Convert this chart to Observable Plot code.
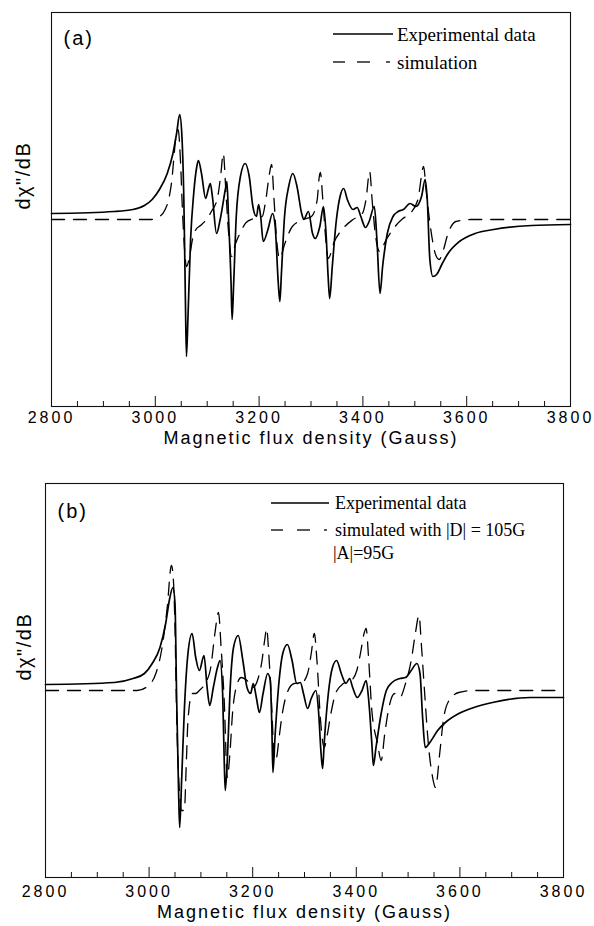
<!DOCTYPE html>
<html>
<head>
<meta charset="utf-8">
<script src="https://cdn.jsdelivr.net/npm/d3@7"></script>
<script src="https://cdn.jsdelivr.net/npm/@observablehq/plot@0.6"></script>
<style>
  html, body { margin: 0; padding: 0; background: #fff; }
  #wrap { position: relative; width: 594px; height: 926px; overflow: hidden; }
  #wrap > svg.plot { display: block; }
  #legend { position: absolute; left: 0; top: 0; pointer-events: none; }
  #legend text { font-family: "Liberation Serif", "Times New Roman", serif; fill: #000; dominant-baseline: central; }
</style>
</head>
<body>
<div id="wrap"></div>
<script>
// ---------- Data (arbitrary intensity units) ----------
const majorTicks = [2800, 3000, 3200, 3400, 3600, 3800];
const minorTicks = [2850, 2900, 2950, 3050, 3100, 3150, 3250, 3300, 3350, 3450, 3500, 3550, 3650, 3700, 3750];
const xTitle = "Magnetic flux density (Gauss)";
const yTitle = "dχ\"/dB";

// Panel (a): experimental
const aExpField = [2800,2921,2957,2979,2994,3008,3023,3034,3041,3047,3051,3055,3058,3060,3063,3068,3074,3080,3083,3089,3097,3102,3106,3110,3118,3125,3136,3138,3141,3146,3148,3151,3156,3164,3173,3181,3188,3195,3199,3203,3208,3217,3226,3231,3237,3240,3243,3249,3257,3265,3273,3282,3286,3295,3303,3308,3317,3324,3329,3333,3336,3341,3349,3356,3363,3370,3381,3389,3396,3405,3412,3422,3427,3433,3438,3447,3458,3468,3478,3491,3502,3513,3520,3524,3529,3535,3542,3553,3564,3586,3616,3652,3725,3800];
const aExpSignal = [193,195,197,201,207,217,233,253,273,292,273,207,107,50,90,167,213,240,246,233,208,217,223,210,173,187,220,225,190,123,87,123,190,230,243,230,200,190,202,190,165,177,193,180,123,105,133,190,220,233,220,193,187,195,173,168,180,200,173,130,108,140,187,210,218,207,197,199,190,179,185,200,167,113,140,173,190,195,197,203,200,210,227,207,147,130,132,143,153,165,173,177,181,182];

// Panel (a): simulation
const aSimField = [2800,2990,3008,3019,3027,3032,3036,3039,3044,3049,3052,3056,3060,3066,3072,3077,3087,3097,3108,3120,3126,3131,3136,3141,3147,3154,3164,3175,3190,3206,3213,3220,3224,3229,3234,3240,3249,3264,3286,3301,3312,3316,3318,3323,3328,3333,3345,3360,3381,3399,3406,3413,3418,3424,3432,3445,3462,3477,3491,3506,3517,3522,3530,3540,3547,3553,3564,3579,3608,3800];
const aSimSignal = [187,187,190,197,210,227,250,267,277,240,200,160,140,150,168,176,181,186,195,209,231,253,215,175,150,162,174,184,188,190,207,233,242,205,165,148,162,180,187,190,207,230,234,205,170,148,165,177,187,193,207,235,205,172,155,167,180,188,193,207,240,215,180,152,147,153,173,185,187,187];

// Panel (b): experimental
const bExpField = [2800,2933,2969,2991,3006,3021,3032,3039,3046,3050,3053,3057,3059,3063,3068,3075,3083,3090,3097,3106,3112,3117,3124,3132,3137,3142,3145,3147,3151,3156,3163,3172,3181,3189,3196,3201,3207,3213,3220,3229,3234,3237,3239,3243,3251,3258,3267,3276,3285,3292,3298,3306,3313,3322,3327,3332,3335,3338,3346,3354,3362,3371,3380,3387,3393,3402,3411,3419,3424,3430,3433,3438,3448,3458,3469,3484,3495,3506,3517,3523,3528,3533,3542,3557,3572,3598,3627,3663,3736,3800];
const bExpSignal = [193,195,199,204,214,230,254,277,290,274,184,84,50,100,167,224,244,220,207,222,190,172,190,210,217,184,117,87,117,184,230,242,217,190,184,194,180,165,184,204,197,150,105,140,197,224,233,217,194,195,184,169,179,187,167,124,109,134,184,210,217,204,194,199,190,180,187,197,177,134,112,130,164,187,195,199,200,207,214,204,160,130,135,147,155,164,170,175,180,180];

// Panel (b): simulated with |D| = 105G, |A| = 95G
const bSimField = [2800,2977,2999,3013,3024,3035,3043,3046,3050,3053,3057,3063,3068,3072,3075,3083,3090,3097,3108,3119,3127,3134,3139,3145,3151,3156,3161,3168,3178,3189,3200,3211,3218,3223,3227,3231,3237,3242,3246,3251,3256,3266,3280,3295,3306,3313,3319,3324,3331,3338,3343,3351,3360,3375,3390,3401,3408,3415,3419,3424,3430,3441,3448,3455,3463,3474,3484,3495,3506,3514,3521,3526,3532,3539,3546,3553,3561,3568,3579,3598,3627,3800];
const bSimSignal = [187,187,192,204,227,270,312,304,250,167,100,67,67,117,157,184,184,187,194,210,244,265,230,177,100,124,164,190,200,197,190,200,217,237,249,224,167,117,120,140,160,184,194,195,204,224,244,217,157,130,140,164,184,194,197,207,224,244,249,217,167,134,117,144,170,184,180,194,217,244,262,230,184,134,104,90,124,157,177,185,187,187];

// ---------- Helpers ----------
function rows(fields, signals) {
  const n = Math.min(fields.length, signals.length);
  return d3.range(n).map(i => ({field: fields[i], signal: signals[i]}));
}

function panel(cfg) {
  const innerH = cfg.height - cfg.marginTop - cfg.marginBottom;
  const svg = Plot.plot({
    width: 594,
    height: cfg.height,
    marginLeft: cfg.marginLeft,
    marginRight: cfg.marginRight,
    marginTop: cfg.marginTop,
    marginBottom: cfg.marginBottom,
    x: {domain: [2800, 3800]},
    y: {domain: [0, 394], axis: null},
    style: {fontFamily: "'Liberation Sans', Arial, Helvetica, sans-serif", color: "#000", background: "#fff"},
    marks: [
      Plot.frame({stroke: "#111", strokeWidth: 1.1}),
      Plot.tickX(minorTicks, {x: d => d, insetTop: innerH - 5, stroke: "#111", strokeWidth: 1}),
      Plot.tickX(majorTicks, {x: d => d, insetTop: innerH - 10, stroke: "#111", strokeWidth: 1}),
      Plot.axisX(majorTicks, {tickSize: 0, tickPadding: cfg.tickPadding, tickFormat: d => String(d), fontSize: 16, label: null}),
      Plot.line(rows(cfg.simField, cfg.simSignal), {x: "field", y: "signal", stroke: "#000", strokeWidth: 1.3, strokeDasharray: "13,9", curve: "monotone-x"}),
      Plot.line(rows(cfg.expField, cfg.expSignal), {x: "field", y: "signal", stroke: "#000", strokeWidth: 1.7, curve: "monotone-x"}),
      Plot.text([xTitle], {text: d => d, frameAnchor: "bottom", dy: cfg.titleDy, fontSize: 18}),
      Plot.text([yTitle], {text: d => d, frameAnchor: "left", dx: cfg.yTitleDx, rotate: -90, fontSize: 20}),
      Plot.text([cfg.tag], {text: d => d, frameAnchor: "top-left", dx: 12, dy: cfg.tagDy, fontSize: 20, textAnchor: "start"})
    ]
  });
  // letter spacing like the original typesetting
  const spacing = new Map([[xTitle, "2px"], [yTitle, "1.5px"], [cfg.tag, "2px"]]);
  svg.querySelectorAll("text").forEach(t => {
    const s = t.textContent;
    if (spacing.has(s)) t.style.letterSpacing = spacing.get(s);
    else if (majorTicks.map(String).includes(s)) t.style.letterSpacing = "3px";
  });
  return svg;
}

const wrap = document.getElementById("wrap");

wrap.appendChild(panel({
  height: 460, marginTop: 12, marginBottom: 54, marginLeft: 51, marginRight: 24,
  tickPadding: 5, titleDy: 37, yTitleDx: -28, tag: "(a)", tagDy: 18,
  expField: aExpField, expSignal: aExpSignal, simField: aSimField, simSignal: aSimSignal
}));

wrap.appendChild(panel({
  height: 466, marginTop: 23, marginBottom: 49, marginLeft: 45, marginRight: 31,
  tickPadding: 8, titleDy: 40, yTitleDx: -21, tag: "(b)", tagDy: 20,
  expField: bExpField, expSignal: bExpSignal, simField: bSimField, simSignal: bSimSignal
}));

// ---------- Legends (overlay) ----------
const legendItems = [
  {y: 34, x0: 333, x1: 393, dashes: null, tx: 397, text: "Experimental data", fs: 19},
  {y: 62, x0: 333, x1: 393, dashes: [[333,345],[357,370],[386,390]], tx: 397, text: "simulation", fs: 19},
  {y: 503, x0: 271, x1: 329, dashes: null, tx: 335, text: "Experimental data", fs: 18},
  {y: 530, x0: 271, x1: 329, dashes: [[271,283],[297,310],[324,327]], tx: 335, text: "simulated with |D| = 105G", fs: 18},
  {y: 553, x0: null, tx: 333, text: "|A|=95G", fs: 18}
];
const svgNS = "http://www.w3.org/2000/svg";
const leg = document.createElementNS(svgNS, "svg");
leg.setAttribute("id", "legend");
leg.setAttribute("width", 594);
leg.setAttribute("height", 926);
for (const it of legendItems) {
  const segs = it.x0 == null ? [] : (it.dashes || [[it.x0, it.x1]]);
  for (const [a, b] of segs) {
    const l = document.createElementNS(svgNS, "line");
    l.setAttribute("x1", a); l.setAttribute("x2", b);
    l.setAttribute("y1", it.y); l.setAttribute("y2", it.y);
    l.setAttribute("stroke", "#000"); l.setAttribute("stroke-width", 1.3);
    leg.appendChild(l);
  }
  const t = document.createElementNS(svgNS, "text");
  t.setAttribute("x", it.tx); t.setAttribute("y", it.y);
  t.setAttribute("font-size", it.fs);
  t.textContent = it.text;
  leg.appendChild(t);
}
wrap.appendChild(leg);
</script>
</body>
</html>
